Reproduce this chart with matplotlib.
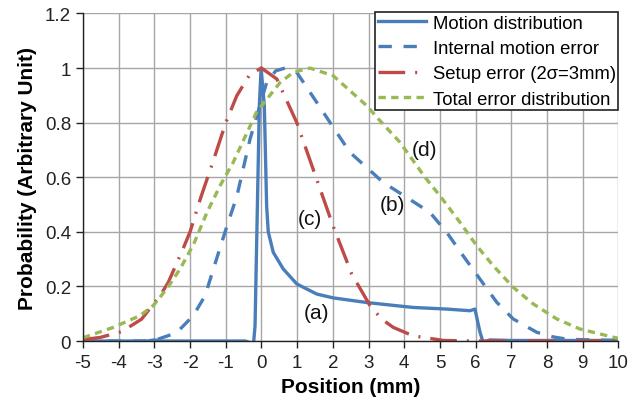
import matplotlib
matplotlib.use('Agg')
import matplotlib.pyplot as plt

plt.rcParams['font.family'] = ['Liberation Sans', 'DejaVu Sans']
plt.rcParams['axes.unicode_minus'] = False

# values
motion_x = [-5, -3.2, -3.0, -2.8, -0.45, -0.32, -0.22, -0.18, -0.06, -0.01, 0.08, 0.145, 0.19, 0.33,
            0.61, 0.99, 1.55, 2.01, 2.95, 3.88, 4.25, 5.19, 5.84, 5.98, 6.12, 6.21, 6.4, 7, 10]
motion_y = [0, 0, 0.004, 0, 0, -0.006, -0.006, 0.056, 0.86, 1.0, 0.86, 0.495, 0.40, 0.325,
            0.264, 0.209, 0.172, 0.158, 0.141, 0.128, 0.123, 0.117, 0.111, 0.117, 0.033, -0.005, 0.004, 0.002, 0.002]

internal_x = [-5, -3.3, -2.94, -2.38, -1.91, -1.58, -1.26, -0.97, -0.69, -0.32, 0.145, 0.4, 0.66, 0.99, 1.55,
              2.01, 2.48, 3.41, 4.07, 4.72, 5.19, 5.65, 6.12, 6.59, 7.05, 7.71, 8.17, 8.6, 10]
internal_y = [0, 0, 0.005, 0.03, 0.093, 0.166, 0.30, 0.42, 0.53, 0.74, 0.947, 0.99, 1.0, 0.984, 0.874,
              0.783, 0.691, 0.581, 0.526, 0.471, 0.398, 0.312, 0.227, 0.142, 0.081, 0.032, 0.015, 0.006, 0.002]

setup_x = [-5, -4.52, -3.92, -3.36, -2.84, -2.61, -2.19, -2.0, -1.70, -1.35, -1.0, -0.69, -0.32, 0, 0.43, 0.99,
           1.5, 2.01, 2.53, 3.04, 3.37, 3.69, 4.25, 4.7, 5.1, 6, 8, 10]
setup_y = [0.005, 0.013, 0.034, 0.08, 0.166, 0.215, 0.34, 0.40, 0.526, 0.66, 0.80, 0.899, 0.978, 1.0, 0.96, 0.80,
           0.61, 0.42, 0.245, 0.13, 0.08, 0.05, 0.019, 0.01, 0.002, 0, 0, 0]

total_x = [-5, -4.15, -3.4, -3.03, -2.66, -2.28, -1.9, -1.53, -1.16, -0.79, -0.14, 0.52, 0.9, 1.36, 2.01, 2.95,
           3.32, 3.88, 4.58, 5.0, 5.56, 6.03, 6.49, 7.05, 7.61, 8.27, 8.92, 9.85, 10]
total_y = [0.012, 0.05, 0.093, 0.13, 0.19, 0.264, 0.355, 0.47, 0.569, 0.655, 0.838, 0.947, 0.985, 1.0, 0.972, 0.862,
           0.807, 0.728, 0.60, 0.532, 0.435, 0.349, 0.276, 0.197, 0.136, 0.081, 0.044, 0.014, 0.01]

labels = ['(a)', '(b)', '(c)', '(d)']
label_x = [1.53, 3.68, 1.36, 4.58]
label_y = [0.106, 0.50, 0.45, 0.70]

xticks = list(range(-5, 11))
yticks = [0, 0.2, 0.4, 0.6, 0.8, 1, 1.2]
ytick_labels = ['0', '0.2', '0.4', '0.6', '0.8', '1', '1.2']

blue = '#4a7ebb'
red = '#be4b48'
green = '#98b954'

fig = plt.figure(figsize=(6.3, 4.06), dpi=100)
ax = fig.add_axes([0.1317, 0.1576, 0.85, 0.8067])

ax.plot(motion_x, motion_y, color=blue, linewidth=2.4, label='Motion distribution')
ax.plot(internal_x, internal_y, color=blue, linewidth=2.4, dashes=(4, 3.5), label='Internal motion error')
ax.plot(setup_x, setup_y, color=red, linewidth=2.4, dashes=(8, 3, 0.6, 3), label='Setup error (2\u03c3=3mm)')
ax.plot(total_x, total_y, color=green, linewidth=2.4, dashes=(2.2, 1.6), label='Total error distribution')

for t, lx, ly in zip(labels, label_x, label_y):
    ax.text(lx, ly, t, fontsize=15, ha='center', va='center', color='#111111')

ax.set_xlim(-5, 10)
ax.set_ylim(0, 1.2)
ax.set_xticks(xticks)
ax.set_yticks(yticks)
ax.set_yticklabels(ytick_labels)
ax.tick_params(axis='both', direction='out', length=5, width=1, labelsize=13.5, colors='#222222')
ax.tick_params(axis='x', pad=4)
ax.grid(True, color='#a6a6a6', linewidth=1)
ax.set_axisbelow(True)
for s in ['top', 'right']:
    ax.spines[s].set_visible(False)
for s in ['left', 'bottom']:
    ax.spines[s].set_color('#222222')
    ax.spines[s].set_linewidth(1)

ax.set_xlabel('Position (mm)', fontsize=15, fontweight='bold', labelpad=5)
ax.set_ylabel('Probability (Arbitrary Unit)', fontsize=15, fontweight='bold', labelpad=6)

leg = ax.legend(loc='upper right', bbox_to_anchor=(1.0, 1.005), fontsize=13.3, frameon=True,
                fancybox=False, edgecolor='#222222', framealpha=1, handlelength=2.6,
                borderpad=0.15, labelspacing=0.45, handletextpad=0.35, borderaxespad=0)
leg.get_frame().set_linewidth(1.2)

fig.savefig('out.png', dpi=100)
